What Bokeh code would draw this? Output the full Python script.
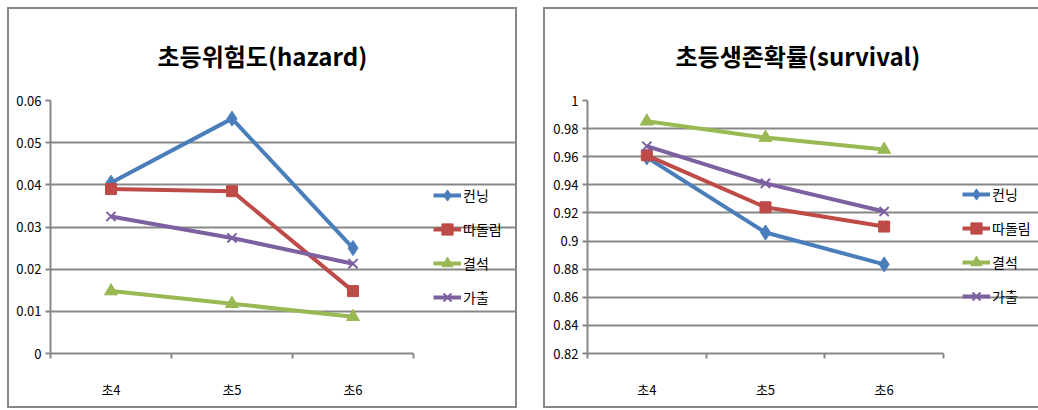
from bokeh.plotting import figure
from bokeh.models import (Range1d, LinearAxis, FixedTicker, Legend, LegendItem, Title, Row,
                          Column, Spacer)
from bokeh.embed import file_html
from bokeh.resources import INLINE

# ---- data ----
categories = ["초4", "초5", "초6"]
series_names = ["컨닝", "따돌림", "결석", "가출"]

hazard_cheating = [0.0405, 0.0557, 0.0250]
hazard_bullying = [0.0390, 0.0385, 0.0148]
hazard_absence = [0.0148, 0.0118, 0.0087]
hazard_runaway = [0.0325, 0.0274, 0.0213]

survival_cheating = [0.9595, 0.9061, 0.8834]
survival_bullying = [0.9610, 0.9240, 0.9103]
survival_absence = [0.9852, 0.9736, 0.9651]
survival_runaway = [0.9675, 0.9410, 0.9210]

hazard_ticks = [0, 0.01, 0.02, 0.03, 0.04, 0.05, 0.06]
hazard_tick_labels = ["0", "0.01", "0.02", "0.03", "0.04", "0.05", "0.06"]
survival_ticks = [0.82, 0.84, 0.86, 0.88, 0.9, 0.92, 0.94, 0.96, 0.98, 1.0]
survival_tick_labels = ["0.82", "0.84", "0.86", "0.88", "0.9", "0.92", "0.94", "0.96", "0.98", "1"]

colors = ["#4A7EBB", "#BE4B48", "#98B954", "#7D60A0"]
markers = ["diamond", "square", "triangle", "x"]
marker_sizes = [15, 11, 13, 13]

FONT = "Noto Sans CJK KR"
GRID = "#878787"

n_cat = len(categories)
# category slots on a linear scale: each category occupies one unit, drawn at its centre
cat_centers = [i + 0.5 for i in range(n_cat)]
cat_bounds = [float(i) for i in range(n_cat + 1)]


def make_chart(title, series, ticks, tick_labels, y0, y1, width, mb_left, mb_right, mb_bottom,
               plot_px, title_offset, legend_x, legend_y, shadow):
    frame_px = width - mb_left - mb_right
    # the frame also holds the legend area; the plotted area spans the categories only
    x_end = n_cat * frame_px / plot_px
    p = figure(width=width, height=401, x_range=Range1d(0, x_end),
               y_range=Range1d(y0, y1), output_backend="svg", toolbar_location=None,
               x_axis_location=None, y_axis_location=None,
               min_border_left=mb_left, min_border_right=mb_right,
               min_border_top=93, min_border_bottom=mb_bottom)
    p.outline_line_color = None
    p.border_fill_color = None
    p.background_fill_color = None
    p.styles = {"background-color": "white", "box-shadow": shadow}

    # y axis
    yax = LinearAxis(ticker=FixedTicker(ticks=ticks, minor_ticks=[]))
    yax.major_label_overrides = {float(t): l for t, l in zip(ticks, tick_labels)}
    yax.axis_line_color = GRID
    yax.axis_line_width = 2
    yax.major_tick_line_color = GRID
    yax.major_tick_line_width = 2
    yax.major_tick_out = 5
    yax.major_tick_in = 0
    yax.major_label_text_font = FONT
    yax.major_label_text_font_size = "13px"
    yax.major_label_text_color = "#000000"
    yax.major_label_standoff = 4
    p.add_layout(yax, "left")

    # x axis: labels at category centres, tick marks at category boundaries
    xax = LinearAxis(ticker=FixedTicker(ticks=cat_centers, minor_ticks=cat_bounds),
                     bounds=(0, n_cat))
    xax.major_label_overrides = {float(c): lab for c, lab in zip(cat_centers, categories)}
    xax.axis_line_color = GRID
    xax.axis_line_width = 2
    xax.major_tick_line_color = None
    xax.major_tick_out = 0
    xax.major_tick_in = 0
    xax.minor_tick_line_color = GRID
    xax.minor_tick_line_width = 2
    xax.minor_tick_out = 5
    xax.minor_tick_in = 0
    xax.major_label_text_font = FONT
    xax.major_label_text_font_size = "13px"
    xax.major_label_text_color = "#000000"
    xax.major_label_standoff = 21
    p.add_layout(xax, "below")

    p.ygrid.ticker = FixedTicker(ticks=ticks, minor_ticks=[])
    p.ygrid.grid_line_color = GRID
    p.ygrid.grid_line_width = 2
    p.ygrid.bounds = (0, n_cat)
    p.xgrid.grid_line_color = None

    items = []
    for name, vals, c, m, s in zip(series_names, series, colors, markers, marker_sizes):
        r1 = p.line(cat_centers, vals, line_color=c, line_width=4)
        r2 = p.scatter(cat_centers, vals, marker=m, size=s, fill_color=c, line_color=c,
                       line_width=2 if m == "x" else 1)
        items.append(LegendItem(label=name, renderers=[r1, r2]))

    lg = Legend(items=items, location=(legend_x, legend_y))
    lg.border_line_color = None
    lg.background_fill_alpha = 0
    lg.padding = 0
    lg.margin = 0
    lg.spacing = 4
    lg.label_height = 20
    lg.glyph_height = 30
    lg.glyph_width = 28
    lg.label_standoff = 2
    lg.label_text_font = FONT
    lg.label_text_font_size = "14px"
    lg.label_text_color = "#000000"
    p.add_layout(lg, "center")

    t = Title(text=title, align="left", offset=title_offset, standoff=55,
              text_font=FONT, text_font_size="24px", text_font_style="bold",
              text_color="#000000")
    p.add_layout(t, "above")
    return p


p1 = make_chart("초등위험도(hazard)",
                [hazard_cheating, hazard_bullying, hazard_absence, hazard_runaway],
                hazard_ticks, hazard_tick_labels, 0, 0.06,
                width=510, mb_left=43, mb_right=2, mb_bottom=55, plot_px=363,
                title_offset=107, legend_x=383, legend_y=41,
                shadow="inset 2px 2px 0 #878787, inset -2px -2px 0 #878787")
p2 = make_chart("초등생존확률(survival)",
                [survival_cheating, survival_bullying, survival_absence, survival_runaway],
                survival_ticks, survival_tick_labels, 0.82, 1.0,
                width=495, mb_left=44, mb_right=0, mb_bottom=54, plot_px=356,
                title_offset=88, legend_x=375, legend_y=42,
                shadow="inset 2px 2px 0 #878787, inset 0 -2px 0 #878787")

layout = Column(children=[Spacer(height=7),
                          Row(children=[Spacer(width=7), p1, Spacer(width=26), p2])])
open("out.html", "w").write(file_html(layout, INLINE))
